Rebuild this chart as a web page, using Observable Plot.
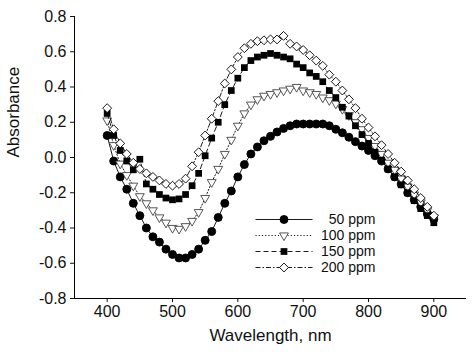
<!DOCTYPE html>
<html><head><meta charset="utf-8">
<script src="https://cdn.jsdelivr.net/npm/d3@7"></script>
<script src="https://cdn.jsdelivr.net/npm/@observablehq/plot@0.6"></script>
<style>
html,body{margin:0;padding:0;background:#fff;}
#wrap{position:relative;width:473px;height:355px;}
#legend{position:absolute;left:250px;top:208px;}
</style></head><body>
<div id="wrap"><div id="chart"></div><div id="legend"></div></div>
<script>
const wavelengths = [400,410,420,430,440,450,460,470,480,490,500,510,520,530,540,550,560,570,580,590,600,610,620,630,640,650,660,670,680,690,700,710,720,730,740,750,760,770,780,790,800,810,820,830,840,850,860,870,880,890,900];
const ppm50  = [0.125,-0.02,-0.11,-0.18,-0.26,-0.33,-0.40,-0.45,-0.48,-0.52,-0.55,-0.57,-0.57,-0.55,-0.52,-0.47,-0.42,-0.34,-0.26,-0.19,-0.11,-0.04,0.02,0.06,0.095,0.12,0.145,0.165,0.18,0.19,0.19,0.19,0.19,0.19,0.18,0.16,0.14,0.115,0.09,0.065,0.04,0.01,-0.02,-0.065,-0.11,-0.15,-0.20,-0.24,-0.28,-0.32,-0.35];
const ppm100 = [0.21,0.07,-0.035,-0.10,-0.16,-0.22,-0.26,-0.30,-0.34,-0.37,-0.40,-0.405,-0.39,-0.36,-0.31,-0.23,-0.14,-0.065,0.02,0.10,0.18,0.25,0.30,0.33,0.35,0.36,0.37,0.38,0.39,0.40,0.38,0.37,0.36,0.34,0.325,0.305,0.275,0.24,0.20,0.16,0.11,0.065,0.02,-0.03,-0.07,-0.12,-0.165,-0.21,-0.255,-0.30,-0.34];
const ppm150 = [0.25,0.125,0.04,-0.02,-0.07,-0.01,-0.15,-0.18,-0.21,-0.23,-0.24,-0.235,-0.21,-0.16,-0.09,0.01,0.11,0.20,0.30,0.38,0.45,0.51,0.55,0.57,0.58,0.59,0.58,0.57,0.56,0.53,0.51,0.48,0.46,0.43,0.38,0.34,0.285,0.235,0.18,0.13,0.08,0.03,-0.015,-0.065,-0.11,-0.155,-0.20,-0.245,-0.29,-0.33,-0.37];
const ppm200 = [0.28,0.16,0.08,0.02,-0.03,-0.065,-0.09,-0.11,-0.13,-0.15,-0.16,-0.15,-0.12,-0.05,0.03,0.125,0.22,0.32,0.42,0.50,0.57,0.62,0.645,0.66,0.665,0.67,0.67,0.69,0.645,0.63,0.61,0.58,0.55,0.52,0.47,0.43,0.38,0.33,0.28,0.22,0.17,0.12,0.07,0.02,-0.03,-0.08,-0.13,-0.18,-0.23,-0.28,-0.33];
const seriesNames = ["50 ppm", "100 ppm", "150 ppm", "200 ppm"];
const xTicks = [400, 500, 600, 700, 800, 900];
const yTicks = [-0.8, -0.6, -0.4, -0.2, 0, 0.2, 0.4, 0.6, 0.8];

const seriesValues = [ppm50, ppm100, ppm150, ppm200];
const rows = seriesNames.map((name, i) => wavelengths.map((w, j) => ({series: name, w, a: seriesValues[i][j]})));

const styles = [
  {dash: null, symbol: "circle", fill: "#000", stroke: "#000", r: 4, rotate: 0},
  {dash: "1.2,2", symbol: "triangle", fill: "#fff", stroke: "#444", r: 3.3, rotate: 180},
  {dash: "5,3", symbol: "square", fill: "#000", stroke: "none", r: 3.8, rotate: 0},
  {dash: "5,2,1.5,2", symbol: "diamond2", fill: "#fff", stroke: "#000", r: 4, rotate: 0}
];

const font = "'Liberation Sans', Arial, Helvetica, sans-serif";

const seriesMarks = rows.flatMap((data, i) => {
  const s = styles[i];
  return [
    Plot.line(data, {x: "w", y: "a", stroke: "#000", strokeWidth: 0.9, strokeDasharray: s.dash}),
    Plot.dot(data, {x: "w", y: "a", symbol: s.symbol, r: s.r, fill: s.fill, stroke: s.stroke, strokeWidth: 0.9, rotate: s.rotate})
  ];
});

const chart = Plot.plot({
  width: 473, height: 355,
  marginLeft: 74, marginRight: 7, marginTop: 16, marginBottom: 57,
  style: {fontFamily: font, fontSize: "16px", color: "#111", background: "#fff"},
  x: {domain: [350, 950]},
  y: {domain: [-0.8, 0.8]},
  marks: [
    Plot.axisX(xTicks, {tickSize: 4, tickPadding: 3, fontSize: 16, label: null}),
    Plot.axisY(yTicks, {tickSize: 4, tickPadding: 4, fontSize: 16, label: null, tickFormat: d => d.toFixed(1)}),
    Plot.ruleY([-0.8], {stroke: "#000", strokeWidth: 1}),
    Plot.ruleX([350], {y1: -0.8, y2: 0.8, stroke: "#000", strokeWidth: 1}),
    ...seriesMarks,
    Plot.text(["Wavelength, nm"], {frameAnchor: "bottom", dy: 42, fontSize: 17, fill: "#111"}),
    Plot.text(["Absorbance"], {frameAnchor: "left", dx: -61, rotate: -90, fontSize: 17, fill: "#111"})
  ]
});
document.getElementById("chart").appendChild(chart);

const legendMarks = seriesNames.flatMap((name, i) => {
  const s = styles[i];
  return [
    Plot.link([name], {x1: () => 0, x2: () => 1, y1: d => d, y2: d => d, stroke: "#000", strokeWidth: 0.9, strokeDasharray: s.dash}),
    Plot.dot([name], {x: () => 0.5, y: d => d, symbol: s.symbol, r: s.r, fill: s.fill, stroke: s.stroke, strokeWidth: 0.9, rotate: s.rotate})
  ];
});

const legend = Plot.plot({
  width: 135, height: 72, margin: 0,
  style: {fontFamily: font, background: "transparent", overflow: "visible"},
  x: {domain: [0, 1], range: [5, 62], axis: null},
  y: {type: "point", domain: seriesNames, range: [11, 59], padding: 0, axis: null},
  marks: [
    ...legendMarks,
    Plot.text(seriesNames, {x: () => 1, y: d => d, text: d => d, textAnchor: "end", dx: 63, fontSize: 14, fill: "#111"})
  ]
});
document.getElementById("legend").appendChild(legend);
</script>
</body></html>
